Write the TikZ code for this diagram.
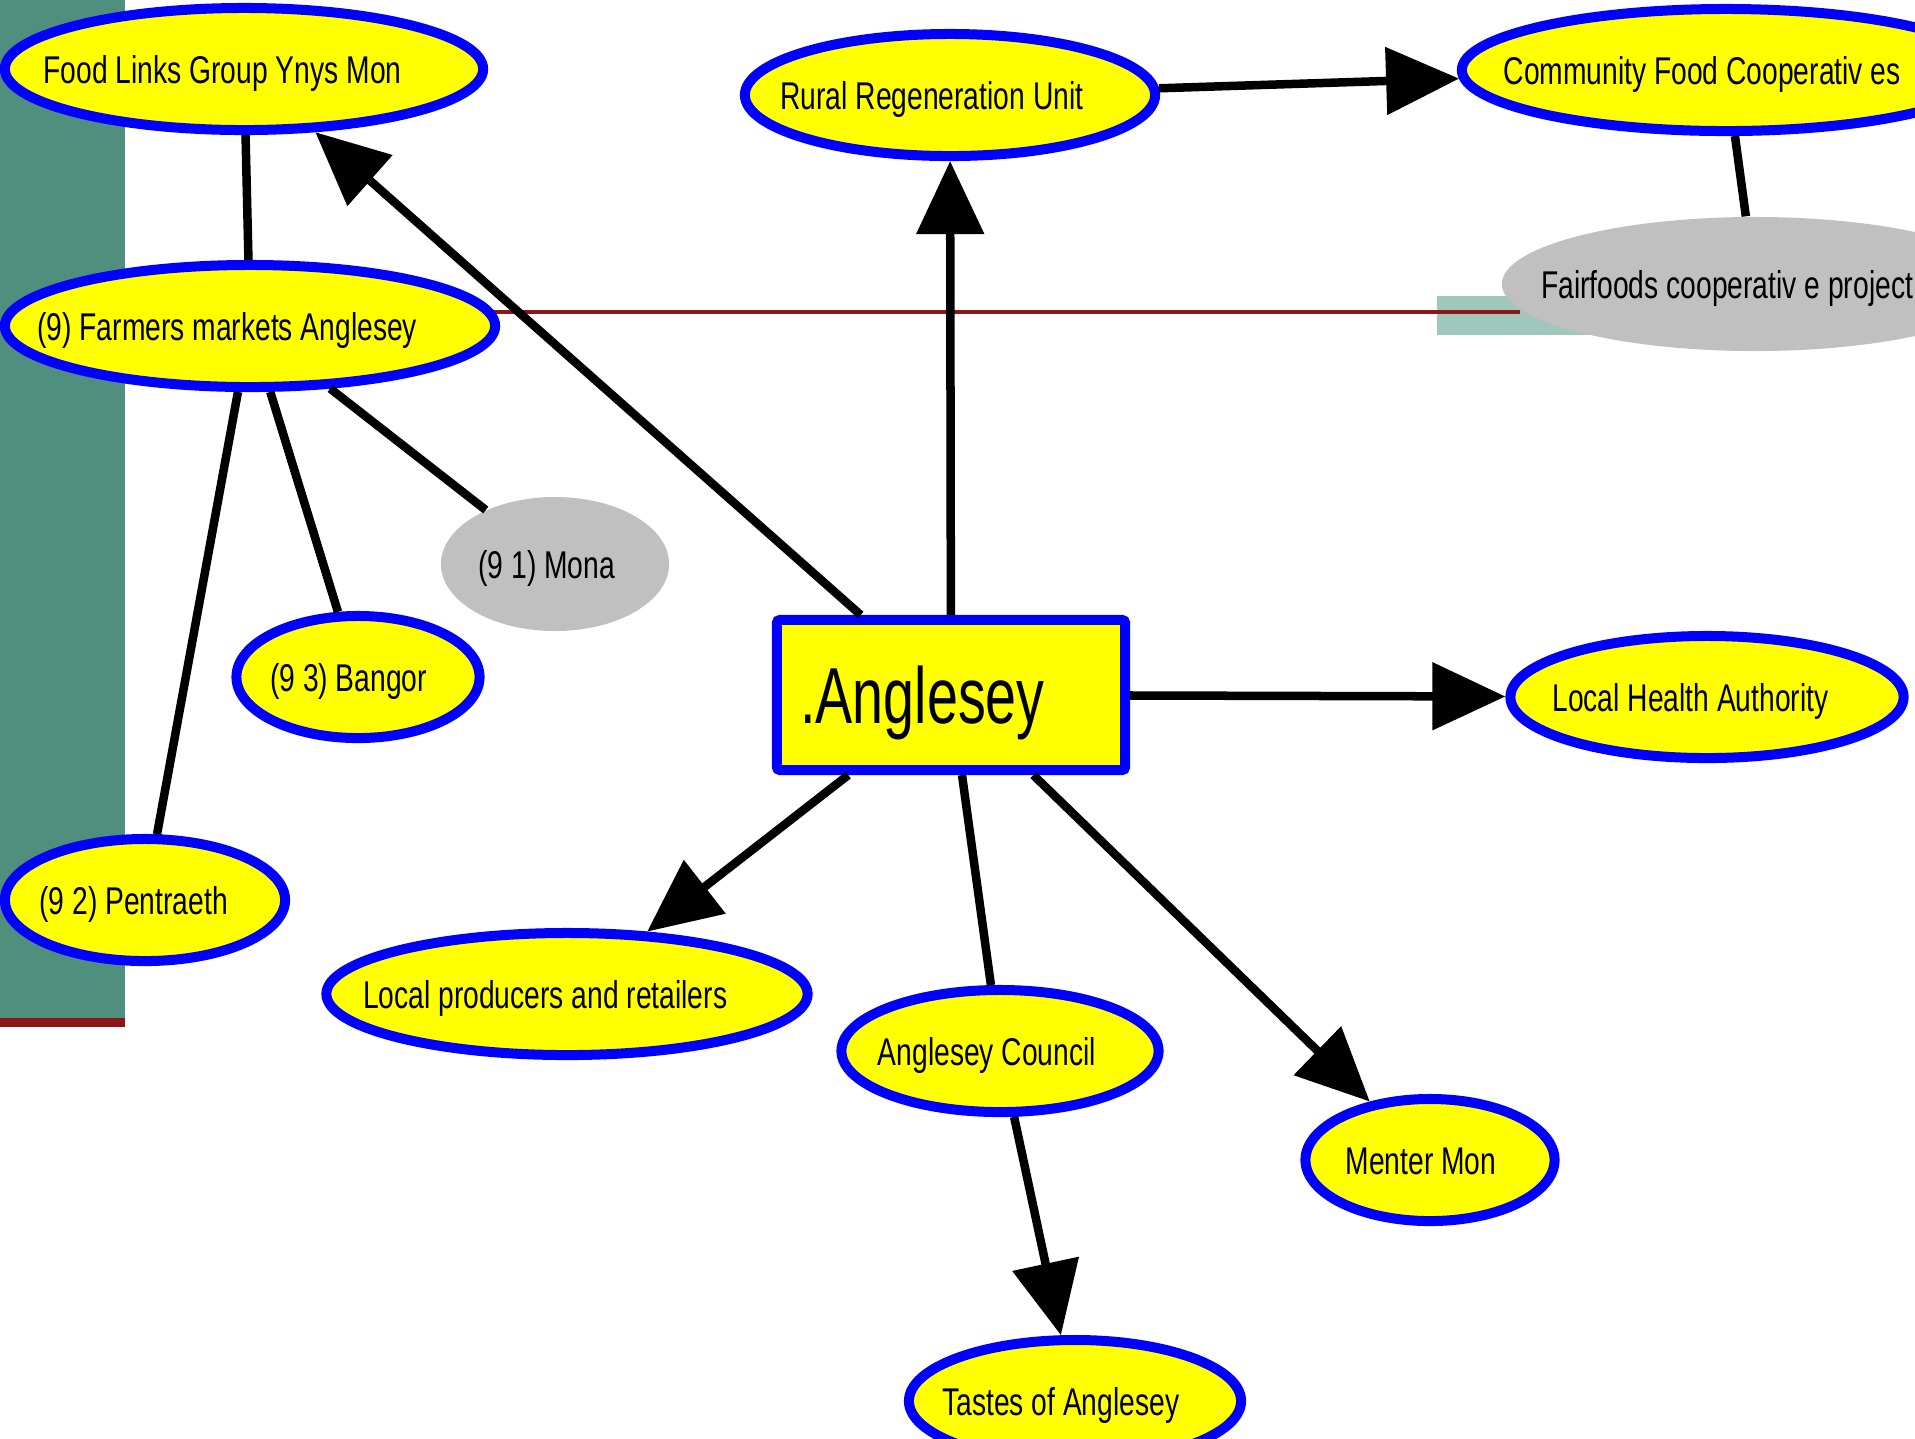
\documentclass[tikz,border=0pt]{standalone}
\usepackage{fontspec}
\setmainfont{Liberation Sans}[FakeStretch=0.73]
\newfontfamily\bigfont{Liberation Sans}[FakeStretch=0.7]
\usetikzlibrary{arrows.meta,shapes.geometric}
\definecolor{T}{RGB}{80,142,126}
\definecolor{LT}{RGB}{160,199,187}
\definecolor{R}{RGB}{140,22,22}
\definecolor{Gr}{RGB}{192,192,192}
\definecolor{Bl}{RGB}{0,0,255}
\definecolor{Y}{RGB}{255,255,0}
\newlength\lblw
\newcommand\lbl[1]{\settowidth\lblw{#1}\makebox[0pt]{#1\hspace*{0.12\lblw}}}

\begin{document}
\begin{tikzpicture}[x=0.01cm, y=-0.01cm,
   oval/.style={ellipse, draw=Bl, line width=0.1cm, fill=Y, inner sep=0pt, minimum height=1.22cm,
                text height=0.28cm, text depth=0pt, font=\fontsize{11pt}{13pt}\selectfont},
   sub/.style={ellipse, fill=Gr, inner sep=0pt, minimum height=1.34cm,
                text height=0.28cm, text depth=0pt, font=\fontsize{11pt}{13pt}\selectfont},
   box/.style={rectangle, draw=Bl, line width=0.1cm, fill=Y, rounded corners=0.03cm, inner sep=0pt,
                minimum width=3.48cm, minimum height=1.5cm, text height=0.57cm, text depth=0pt,
                font=\bigfont\fontsize{22.6pt}{26pt}\selectfont},
   link/.style={line width=0.085cm},
   arr/.style={link, -{Triangle[length=0.73cm, width=0.66cm]}}]
   \useasboundingbox (0,0) rectangle (1915,1438);
   \fill[T] (0,0) rectangle (125,1018);
   \fill[R] (0,1018) rectangle (125,1027);
   \fill[LT] (1437,296) rectangle (1700,335);
   \draw[R, line width=0.035cm] (125,312) -- (1520,312);

   \node[oval, minimum width=4.78cm] (foodlinks) at (244,69) {\lbl{Food Links Group Ynys Mon}};
   \node[oval, minimum width=4.90cm] (farmers) at (250,326) {\lbl{(9) Farmers markets Anglesey}};
   \node[oval, minimum width=4.10cm] (rural) at (950,95) {\lbl{Rural Regeneration Unit}};
   \node[oval, minimum width=5.28cm] (coop) at (1726,70) {\lbl{Community Food Cooperativ es}};
   \node[sub, minimum width=5.06cm] (fairfoods) at (1755,284) {\lbl{Fairfoods cooperativ e project\hspace*{0.1cm}}};
   \node[sub, minimum width=2.28cm] (mona) at (555,564) {\lbl{(9 1) Mona}};
   \node[oval, minimum width=2.43cm] (bangor) at (358,677) {\lbl{(9 3) Bangor}};
   \node[oval, minimum width=2.80cm] (pentraeth) at (145,900) {\lbl{(9 2) Pentraeth}};
   \node[box] (anglesey) at (951,695) {\makebox[0pt]{.Anglesey\hspace*{0.57cm}}};
   \node[oval, minimum width=3.93cm] (health) at (1707,697) {\lbl{Local Health Authority}};
   \node[oval, minimum width=4.81cm] (producers) at (567,994) {\lbl{Local producers and retailers}};
   \node[oval, minimum width=3.17cm] (council) at (1000,1051) {\lbl{Anglesey Council}};
   \node[oval, minimum width=2.49cm] (menter) at (1430,1160) {\lbl{Menter Mon}};
   \node[oval, minimum width=3.32cm] (tastes) at (1075,1401) {\lbl{Tastes of Anglesey}};

   \draw[arr] (anglesey) -- (rural);
   \draw[arr] (rural) -- (coop);
   \draw[arr] (anglesey) -- (foodlinks);
   \draw[arr] (anglesey) -- (health);
   \draw[arr] (anglesey) -- (producers);
   \draw[link] (anglesey) -- (council);
   \draw[arr] (anglesey) -- (menter);
   \draw[arr] (council) -- (tastes);
   \draw[link] (foodlinks) -- (farmers);
   \draw[link] (farmers) -- (mona);
   \draw[link] (farmers) -- (bangor);
   \draw[link] (farmers) -- (pentraeth);
   \draw[link] (coop) -- (fairfoods);
\end{tikzpicture}
\end{document}
